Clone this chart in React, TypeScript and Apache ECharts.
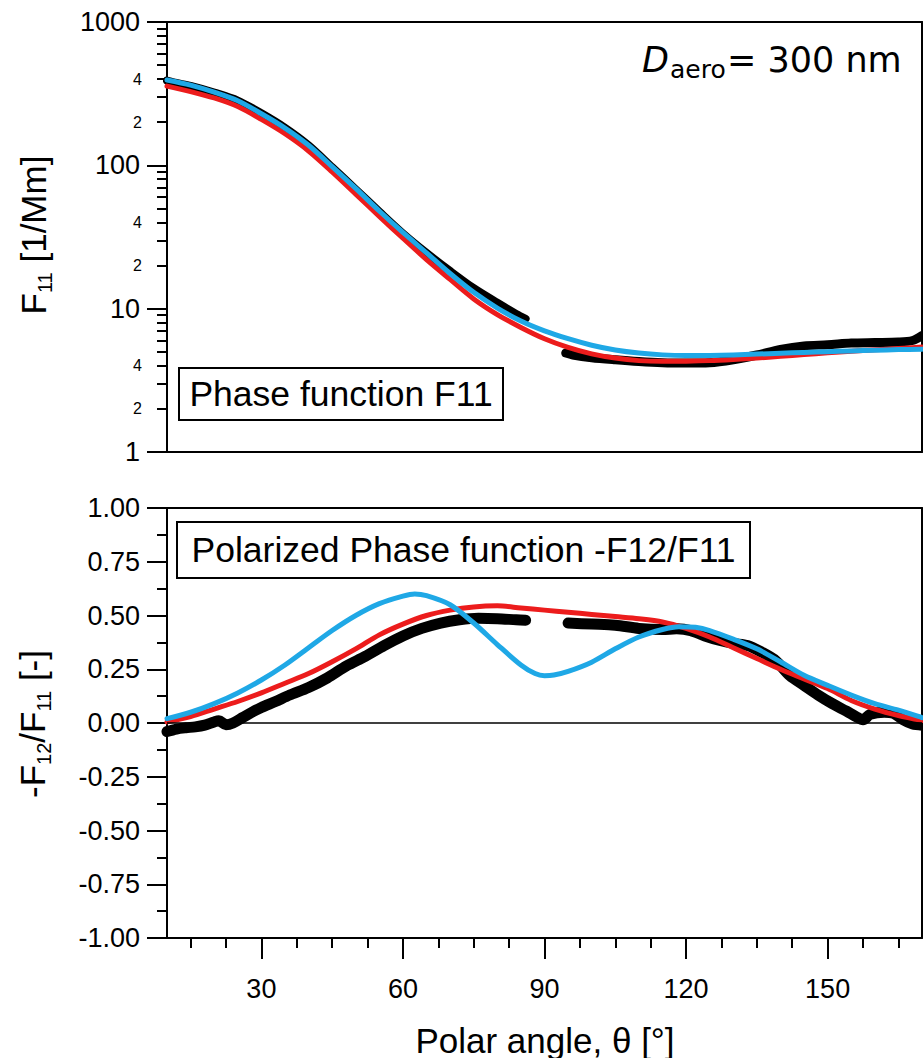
import React, { useEffect, useRef } from "react";
import * as echarts from "echarts";

const FONT = "'Liberation Sans', Arial, Helvetica, sans-serif";
const RED = "#ec1c1c";
const BLUE = "#1fa8e6";

// ---- x axis ticks (polar angle, deg)
const xMajorTicks = [30, 60, 90, 120, 150];
const xMinorTicks = [15, 22.5, 37.5, 45, 52.5, 67.5, 75, 82.5, 97.5, 105, 112.5, 127.5, 135, 142.5, 157.5, 165];

// ---- top panel y ticks (log)
const yTopMajor = [1, 10, 100, 1000];
const yTopMinor = [2, 3, 4, 5, 6, 7, 8, 9, 20, 30, 40, 50, 60, 70, 80, 90, 200, 300, 400, 500, 600, 700, 800, 900];
const yTopMinorLabels = [2, 4, 20, 40, 200, 400];

// ---- model curves (angles)
const fitAngles = [10, 15, 20, 25, 30, 35, 40, 45, 50, 55, 60, 65, 70, 75, 80, 85, 90, 95, 100, 105, 110, 115, 120, 125, 130, 135, 140, 145, 150, 155, 160, 165, 170];

// F11 [1/Mm]
const f11Red = [357, 327, 295, 257, 209, 166, 126, 90, 63, 44, 31, 22, 16, 11.7, 9.1, 7.4, 6.17, 5.37, 4.84, 4.52, 4.34, 4.29, 4.3, 4.34, 4.42, 4.52, 4.65, 4.79, 4.92, 5.05, 5.16, 5.27, 5.4];
const f11Blue = [394, 363, 324, 282, 229, 182, 138, 98, 69, 48, 34, 24.5, 17.6, 13.0, 10.1, 8.2, 7.0, 6.17, 5.56, 5.15, 4.9, 4.76, 4.71, 4.72, 4.76, 4.82, 4.89, 4.95, 5.01, 5.07, 5.13, 5.18, 5.22];

// measured F11 (two segments)
const topAnglesA = [10, 12, 15, 20, 25, 30, 35, 40, 45, 50, 55, 60, 65, 70, 75, 80, 84, 86];
const f11MeasA = [390, 376, 358, 322, 283, 231, 183, 138, 97, 68, 47.5, 33.5, 24.5, 18.3, 13.9, 11.0, 9.2, 8.5];
const topAnglesB = [94.5, 96, 100, 105, 110, 115, 120, 125, 130, 135, 140, 145, 150, 155, 160, 165, 168, 170];
const f11MeasB = [4.9, 4.75, 4.55, 4.4, 4.28, 4.2, 4.18, 4.2, 4.4, 4.75, 5.2, 5.5, 5.6, 5.75, 5.8, 5.85, 6.0, 6.5];

// -F12/F11 [-]
const p12Red = [0.005, 0.03, 0.065, 0.1, 0.14, 0.185, 0.23, 0.285, 0.345, 0.41, 0.46, 0.5, 0.525, 0.54, 0.545, 0.535, 0.525, 0.515, 0.505, 0.495, 0.485, 0.47, 0.44, 0.4, 0.35, 0.3, 0.25, 0.205, 0.16, 0.105, 0.065, 0.035, 0.012];
const p12BlueAngles = [10, 15, 20, 25, 30, 35, 40, 45, 50, 55, 60, 62.5, 65, 70, 75, 80, 85, 88, 90, 92, 95, 100, 105, 110, 115, 118.5, 122, 125, 130, 135, 140, 145, 150, 155, 160, 165, 170];
const p12Blue = [0.02, 0.05, 0.09, 0.14, 0.2, 0.27, 0.35, 0.43, 0.5, 0.555, 0.59, 0.6, 0.592, 0.55, 0.465, 0.365, 0.27, 0.23, 0.22, 0.223, 0.24, 0.283, 0.345, 0.4, 0.435, 0.448, 0.445, 0.43, 0.39, 0.345, 0.285, 0.222, 0.175, 0.13, 0.09, 0.06, 0.025];

const botAnglesA = [10, 12, 14, 16, 18, 20, 21, 22.5, 24, 26, 28, 30, 33, 36, 40, 44, 48, 52, 56, 60, 64, 68, 72, 76, 80, 84, 86];
const p12MeasA = [-0.04, -0.028, -0.022, -0.018, -0.01, 0.005, 0.01, -0.008, 0.0, 0.025, 0.05, 0.072, 0.1, 0.13, 0.165, 0.21, 0.265, 0.31, 0.36, 0.405, 0.44, 0.465, 0.48, 0.487, 0.485, 0.48, 0.478];
const botAnglesB = [95, 100, 105, 110, 115, 118, 121, 124, 127, 130, 133, 136, 139, 142, 145, 148, 151, 154, 156, 157.5, 159, 162, 164, 166, 168, 170];
const p12MeasB = [0.465, 0.46, 0.455, 0.44, 0.435, 0.438, 0.43, 0.405, 0.385, 0.37, 0.36, 0.33, 0.29, 0.22, 0.175, 0.13, 0.09, 0.055, 0.03, 0.015, 0.04, 0.05, 0.045, 0.015, -0.005, -0.01];

const pairs = (xs: number[], ys: number[]) => xs.map((x, i) => [x, ys[i]]);

const frameLine = { onZero: false, lineStyle: { color: "#000", width: 2 } };
const tickStyle = { color: "#000", width: 2 };

function lineSeries(xi: number, yi: number, xs: number[], ys: number[], color: string, width: number, z: number, extra: any = {}) {
  return {
    type: "line",
    xAxisIndex: xi,
    yAxisIndex: yi,
    data: pairs(xs, ys),
    showSymbol: false,
    symbol: "none",
    smooth: 0.3,
    silent: true,
    z,
    lineStyle: { color, width, cap: "round", join: "round" },
    ...extra,
  };
}

export default function App() {
  const ref = useRef<HTMLDivElement>(null);

  useEffect(() => {
    if (!ref.current) return;
    const chart = echarts.init(ref.current, null, { renderer: "svg" });

    const plainX = (grid: number, position: string) => ({
      type: "value",
      gridIndex: grid,
      position,
      min: 10,
      max: 170,
      axisLine: { show: true, ...frameLine },
      axisTick: { show: false },
      axisLabel: { show: false },
      splitLine: { show: false },
    });

    const option: any = {
      animation: false,
      backgroundColor: "#fff",
      grid: [
        { left: 167, top: 22, width: 755, height: 430 },
        { left: 167, top: 508, width: 755, height: 430 },
      ],
      xAxis: [
        plainX(0, "bottom"),
        plainX(0, "top"),
        {
          type: "value",
          gridIndex: 1,
          position: "bottom",
          min: 10,
          max: 170,
          axisLine: { show: true, ...frameLine },
          axisTick: { show: true, customValues: xMajorTicks, length: 21, lineStyle: tickStyle },
          axisLabel: { show: true, customValues: xMajorTicks, margin: 37, fontSize: 27, color: "#000", fontFamily: FONT },
          splitLine: { show: false },
        },
        {
          type: "value",
          gridIndex: 1,
          position: "bottom",
          min: 10,
          max: 170,
          axisLine: { show: false, onZero: false },
          axisTick: { show: true, customValues: xMinorTicks, length: 10, lineStyle: tickStyle },
          axisLabel: { show: false },
          splitLine: { show: false },
        },
        plainX(1, "top"),
      ],
      yAxis: [
        {
          type: "log",
          logBase: 10,
          gridIndex: 0,
          position: "left",
          min: 1,
          max: 1000,
          axisLine: { show: true, ...frameLine },
          axisTick: { show: true, customValues: yTopMajor, length: 20, lineStyle: tickStyle },
          axisLabel: {
            show: true,
            customValues: yTopMajor,
            margin: 27,
            fontSize: 27,
            color: "#000",
            fontFamily: FONT,
            formatter: (v: number) => String(Math.round(v)),
          },
          splitLine: { show: false },
        },
        {
          type: "log",
          logBase: 10,
          gridIndex: 0,
          position: "left",
          min: 1,
          max: 1000,
          axisLine: { show: false, onZero: false },
          axisTick: { show: true, customValues: yTopMinor, length: 10, lineStyle: tickStyle },
          axisLabel: {
            show: true,
            customValues: yTopMinorLabels,
            margin: 25,
            fontSize: 16,
            color: "#000",
            fontFamily: FONT,
            formatter: (v: number) => String(Number(v.toPrecision(3))).charAt(0),
          },
          splitLine: { show: false },
        },
        {
          type: "log",
          logBase: 10,
          gridIndex: 0,
          position: "right",
          min: 1,
          max: 1000,
          axisLine: { show: true, ...frameLine },
          axisTick: { show: false },
          axisLabel: { show: false },
          splitLine: { show: false },
        },
        {
          type: "value",
          gridIndex: 1,
          position: "left",
          min: -1,
          max: 1,
          interval: 0.25,
          axisLine: { show: true, ...frameLine },
          axisTick: { show: true, length: 20, lineStyle: tickStyle },
          minorTick: { show: true, splitNumber: 2, length: 10, lineStyle: tickStyle },
          axisLabel: {
            show: true,
            margin: 27,
            fontSize: 27,
            color: "#000",
            fontFamily: FONT,
            formatter: (v: number) => v.toFixed(2),
          },
          splitLine: { show: false },
        },
        {
          type: "value",
          gridIndex: 1,
          position: "right",
          min: -1,
          max: 1,
          axisLine: { show: true, ...frameLine },
          axisTick: { show: false },
          axisLabel: { show: false },
          splitLine: { show: false },
        },
      ],
      series: [
        lineSeries(0, 0, topAnglesA, f11MeasA, "#000", 8, 2),
        lineSeries(0, 0, topAnglesB, f11MeasB, "#000", 9, 2),
        lineSeries(0, 0, fitAngles, f11Red, RED, 5, 3),
        lineSeries(0, 0, fitAngles, f11Blue, BLUE, 5, 4),
        lineSeries(2, 3, botAnglesA, p12MeasA, "#000", 11, 2, {
          markLine: {
            silent: true,
            symbol: "none",
            label: { show: false },
            lineStyle: { color: "#000", width: 1.5, type: "solid" },
            data: [{ yAxis: 0 }],
          },
        }),
        lineSeries(2, 3, botAnglesB, p12MeasB, "#000", 11, 2),
        lineSeries(2, 3, fitAngles, p12Red, RED, 5, 3),
        lineSeries(2, 3, p12BlueAngles, p12Blue, BLUE, 5, 4),
      ],
      graphic: [
        // annotation boxes
        {
          type: "rect",
          shape: { x: 179, y: 368, width: 324, height: 52 },
          style: { fill: "#fff", stroke: "#000", lineWidth: 2 },
          z: 10,
        },
        {
          type: "text",
          x: 341,
          y: 394,
          style: { text: "Phase function F11", font: `35.5px ${FONT}`, fill: "#000", align: "center", verticalAlign: "middle" },
          z: 11,
        },
        {
          type: "rect",
          shape: { x: 177, y: 522, width: 573, height: 56 },
          style: { fill: "#fff", stroke: "#000", lineWidth: 2 },
          z: 10,
        },
        {
          type: "text",
          x: 463.5,
          y: 550,
          style: { text: "Polarized Phase function -F12/F11", font: `35.5px ${FONT}`, fill: "#000", align: "center", verticalAlign: "middle" },
          z: 11,
        },
        // D_aero = 300 nm
        {
          type: "text",
          x: 642,
          y: 60,
          style: { text: "D", font: `italic 35px 'DejaVu Sans', sans-serif`, fill: "#000", align: "left", verticalAlign: "middle" },
          z: 11,
        },
        {
          type: "text",
          x: 670,
          y: 69,
          style: { text: "aero", font: `25px 'DejaVu Sans', sans-serif`, fill: "#000", align: "left", verticalAlign: "middle" },
          z: 11,
        },
        {
          type: "text",
          x: 727,
          y: 60,
          style: { text: "= 300 nm", font: `35px 'DejaVu Sans', sans-serif`, fill: "#000", align: "left", verticalAlign: "middle" },
          z: 11,
        },
        // axis titles
        {
          type: "text",
          x: 33,
          y: 235,
          rotation: Math.PI / 2,
          style: {
            text: "{m|F}{s|11}{m| [1/Mm]}",
            align: "center",
            verticalAlign: "middle",
            fill: "#000",
            rich: {
              m: { fontSize: 35, fontFamily: FONT, fill: "#000" },
              s: { fontSize: 20, fontFamily: FONT, fill: "#000", padding: [24, 0, 0, 0] },
            },
          },
          z: 11,
        },
        {
          type: "text",
          x: 32,
          y: 724,
          rotation: Math.PI / 2,
          style: {
            text: "{m|-F}{s|12}{m|/F}{s|11}{m| [-]}",
            align: "center",
            verticalAlign: "middle",
            fill: "#000",
            rich: {
              m: { fontSize: 35, fontFamily: FONT, fill: "#000" },
              s: { fontSize: 20, fontFamily: FONT, fill: "#000", padding: [24, 0, 0, 0] },
            },
          },
          z: 11,
        },
        {
          type: "text",
          x: 545,
          y: 1040,
          style: { text: "Polar angle, θ [°]", font: `35px ${FONT}`, fill: "#000", align: "center", verticalAlign: "middle" },
          z: 11,
        },
      ],
    };

    chart.setOption(option);
    return () => chart.dispose();
  }, []);

  return (
    <div
      ref={ref}
      style={{ position: "absolute", left: 0, top: 0, width: 923, height: 1058, background: "#fff" }}
    />
  );
}
